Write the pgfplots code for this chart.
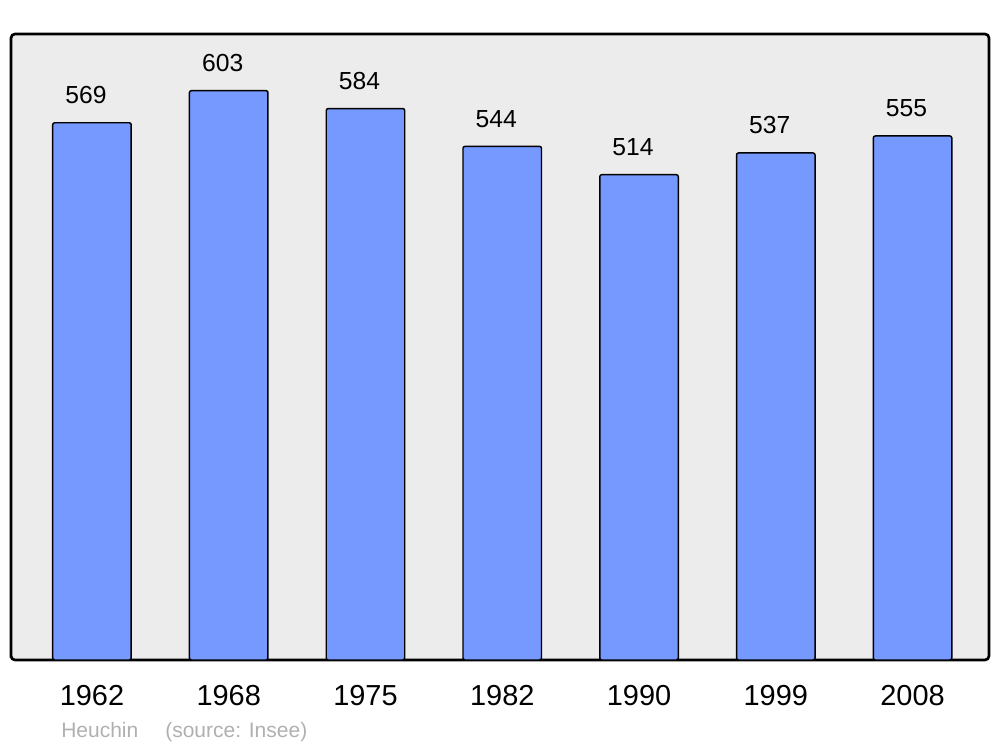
\documentclass[border=0pt]{standalone}
\usepackage{pgfplots}
\pgfplotsset{compat=1.18}
\usepackage{fontspec}
\setmainfont{Liberation Sans}
\definecolor{bg}{HTML}{ECECEC}
\definecolor{barblue}{HTML}{7599FF}
\definecolor{foot}{HTML}{B0B0B0}
\begin{document}
\begin{tikzpicture}
\path[use as bounding box] (0,0) rectangle (750pt,560.25pt);
\begin{axis}[
  at={(8.25pt,65.25pt)}, anchor=south west,
  scale only axis, width=733.5pt, height=469.5pt,
  xmin=-0.592, xmax=6.559, ymin=0, ymax=663,
  /pgf/number format/assume math mode=true,
  axis background/.style={fill=bg, rounded corners=3pt},
  axis line style={line width=2pt, rounded corners=3pt},
  ytick=\empty,
  xtick={0,1,2,3,4,5,6},
  xticklabels={1962,1968,1975,1982,1990,1999,2008},
  major tick length=0pt,
  xticklabel style={font=\fontsize{21.7}{25}\selectfont, anchor=base, inner sep=0pt, yshift=-33.75pt},
  ybar, bar width=0.574,
  nodes near coords={\pgfmathprintnumber[assume math mode=true]{\pgfplotspointmeta}},
  every node near coord/.append style={font=\fontsize{18.5}{22}\selectfont, anchor=base, inner sep=0pt, yshift=14.25pt, xshift=-4.5pt},
]
\addplot[fill=barblue, draw=black, line width=1.1pt, rounded corners=1.5pt] coordinates {
  (0,569) (1,603) (2,584) (3,544) (4,514) (5,537) (6,555)};
\end{axis}
\node[anchor=base west, inner sep=0pt, text=foot, font=\fontsize{15.75}{18}\selectfont] at (45.75pt,7.5pt) {Heuchin};
\node[anchor=base west, inner sep=0pt, text=foot, font=\fontsize{15.75}{18}\selectfont] at (123.75pt,7.5pt) {(source: Insee)};
\end{tikzpicture}
\end{document}
